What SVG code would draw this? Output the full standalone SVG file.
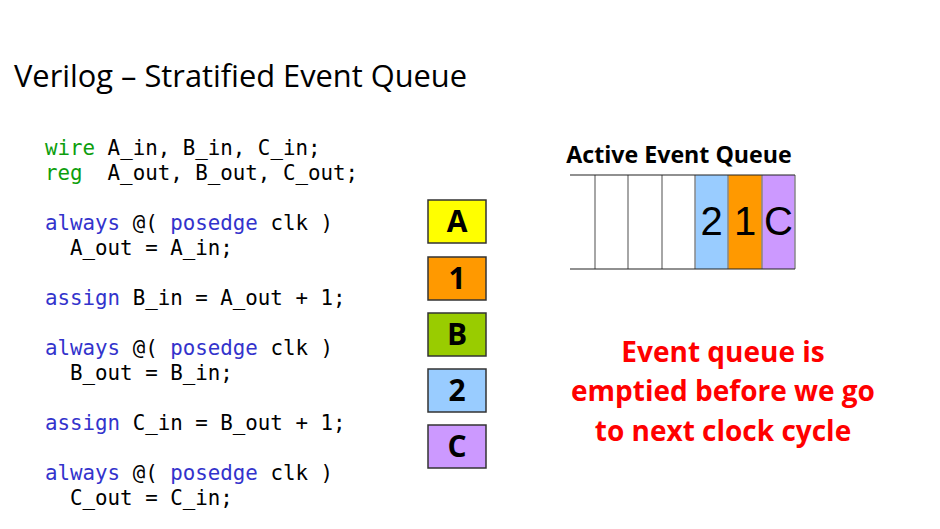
<svg xmlns="http://www.w3.org/2000/svg" width="940" height="529" viewBox="0 0 940 529">
<style>
.code{font-family:"DejaVu Sans Mono","Liberation Mono",monospace;font-size:20.8px;fill:#000;white-space:pre}
.kw{fill:#0d9e0d}
.bl{fill:#3333cc}
.box{stroke:#333;stroke-width:1.5}
.bl2{font-family:"Open Sans","Liberation Sans",sans-serif;font-weight:bold;font-size:30px;text-anchor:middle;fill:#000}
.q{font-family:"Liberation Sans",Arial,sans-serif;font-size:40px;text-anchor:middle;fill:#000}
.red{font-family:"Open Sans","Liberation Sans",sans-serif;font-weight:bold;font-size:28px;fill:#ff0000;text-anchor:middle}
</style>
<rect width="940" height="529" fill="#fff"/>
<text x="14" y="87" font-family="Open Sans, Liberation Sans, sans-serif" font-size="30.8">Verilog – Stratified Event Queue</text>
<g id="code">
<text class="code" x="45" y="155" xml:space="preserve"><tspan class="kw">wire</tspan> A_in, B_in, C_in;</text>
<text class="code" x="45" y="180" xml:space="preserve"><tspan class="kw">reg</tspan>  A_out, B_out, C_out;</text>
<text class="code" x="45" y="230" xml:space="preserve"><tspan class="bl">always</tspan> @( <tspan class="bl">posedge</tspan> clk )</text>
<text class="code" x="45" y="255" xml:space="preserve">  A_out = A_in;</text>
<text class="code" x="45" y="305" xml:space="preserve"><tspan class="bl">assign</tspan> B_in = A_out + 1;</text>
<text class="code" x="45" y="355" xml:space="preserve"><tspan class="bl">always</tspan> @( <tspan class="bl">posedge</tspan> clk )</text>
<text class="code" x="45" y="380" xml:space="preserve">  B_out = B_in;</text>
<text class="code" x="45" y="430" xml:space="preserve"><tspan class="bl">assign</tspan> C_in = B_out + 1;</text>
<text class="code" x="45" y="480" xml:space="preserve"><tspan class="bl">always</tspan> @( <tspan class="bl">posedge</tspan> clk )</text>
<text class="code" x="45" y="505" xml:space="preserve">  C_out = C_in;</text>
</g>
<g id="nodeA"><rect class="box" x="428" y="200" width="58" height="43" fill="#ffff00"/><text class="bl2" x="457" y="232">A</text></g>
<g id="node1"><rect class="box" x="428" y="257" width="58" height="43" fill="#ff9900"/><text class="bl2" x="457" y="289">1</text></g>
<g id="nodeB"><rect class="box" x="428" y="313" width="58" height="43" fill="#99cc00"/><text class="bl2" x="457" y="345">B</text></g>
<g id="node2"><rect class="box" x="428" y="369" width="58" height="43" fill="#99ccff"/><text class="bl2" x="457" y="401">2</text></g>
<g id="nodeC"><rect class="box" x="428" y="425" width="58" height="43" fill="#cc99ff"/><text class="bl2" x="457" y="457">C</text></g>
<g id="queue">
<text x="679" y="163" font-family="Open Sans, Liberation Sans, sans-serif" font-weight="bold" font-size="23.2" text-anchor="middle">Active Event Queue</text>
<rect x="695" y="175" width="33" height="94" fill="#99ccff"/>
<rect x="728" y="175" width="34" height="94" fill="#ff9900"/>
<rect x="762" y="175" width="33" height="94" fill="#cc99ff"/>
<g stroke="#888" stroke-width="1.5">
<line x1="595" y1="175" x2="595" y2="269"/>
<line x1="628" y1="175" x2="628" y2="269"/>
<line x1="662" y1="175" x2="662" y2="269"/>
<line x1="695" y1="175" x2="695" y2="269"/>
<line x1="728" y1="175" x2="728" y2="269"/>
<line x1="762" y1="175" x2="762" y2="269"/>
<line x1="795" y1="175" x2="795" y2="269"/>
</g>
<line x1="570" y1="175" x2="795" y2="175" stroke="#222" stroke-width="1.2"/>
<line x1="570" y1="269" x2="795" y2="269" stroke="#222" stroke-width="1.2"/>
<text class="q" x="711.5" y="235">2</text>
<text class="q" x="745" y="235">1</text>
<text class="q" x="778.5" y="235">C</text>
</g>
<g id="note">
<text class="red" x="723" y="362">Event queue is</text>
<text class="red" x="723" y="401">emptied before we go</text>
<text class="red" x="723" y="441">to next clock cycle</text>
</g>
</svg>
